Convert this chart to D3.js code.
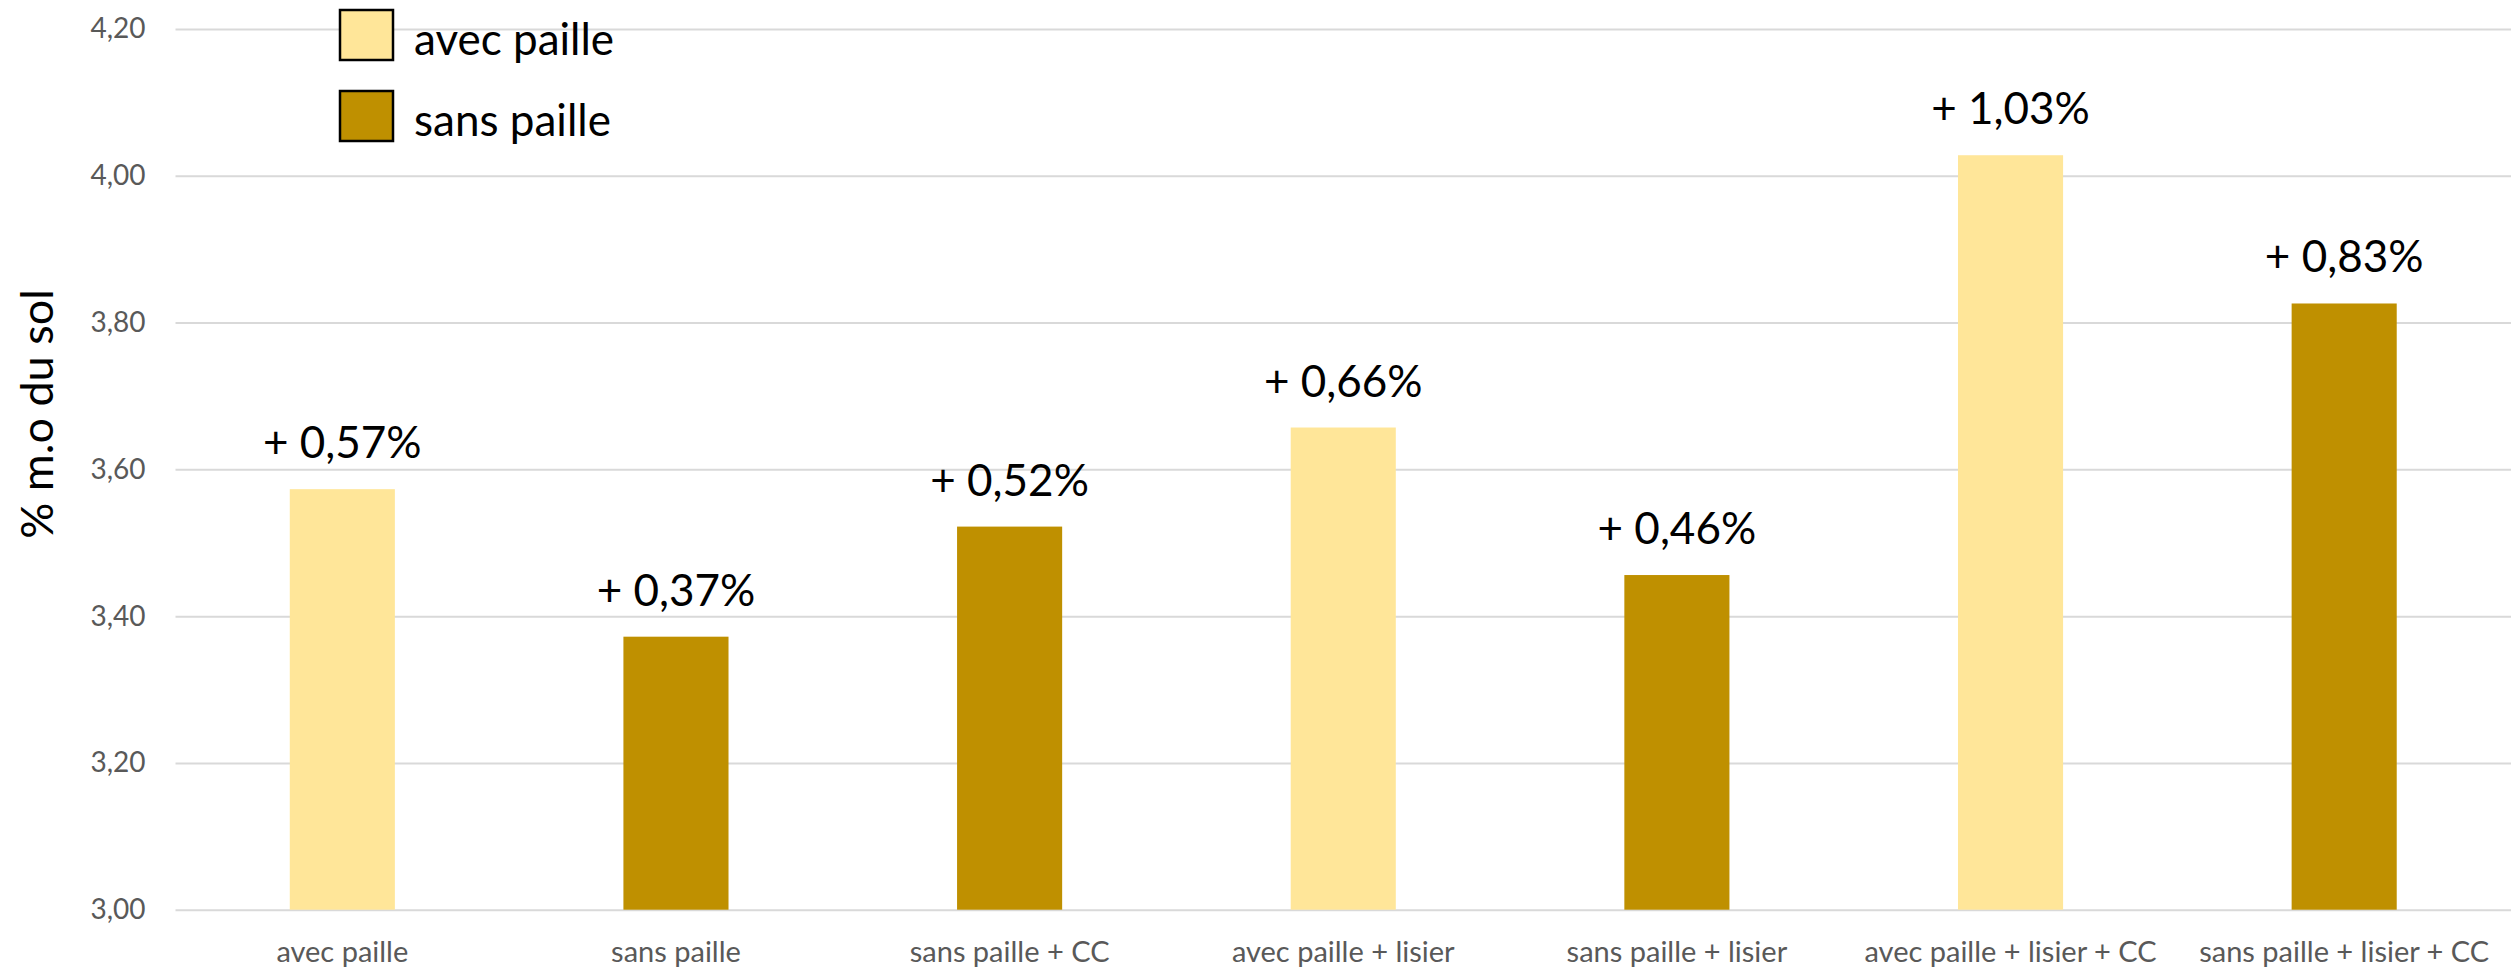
<!DOCTYPE html>
<html>
<head>
<meta charset="utf-8">
<script src="https://cdn.jsdelivr.net/npm/d3@7"></script>
<style>
  body { margin: 0; background: #fff; }
  svg { display: block; font-family: Lato, "Open Sans", sans-serif; }
</style>
</head>
<body>
<script>
// données
const categories = ["avec paille", "sans paille", "sans paille + CC", "avec paille + lisier",
  "sans paille + lisier", "avec paille + lisier + CC", "sans paille + lisier + CC"];
const values = [3.573, 3.372, 3.522, 3.657, 3.456, 4.028, 3.826];
const groups = ["avec paille", "sans paille", "sans paille", "avec paille",
  "sans paille", "avec paille", "sans paille"];
const gains = ["+ 0,57%", "+ 0,37%", "+ 0,52%", "+ 0,66%", "+ 0,46%", "+ 1,03%", "+ 0,83%"];
const yTicks = [3.0, 3.2, 3.4, 3.6, 3.8, 4.0, 4.2];
const legendItems = ["avec paille", "sans paille"];

const colors = { "avec paille": "#FFE699", "sans paille": "#BF9000" };

const width = 2511, height = 969;
const margin = { top: 29, right: 0, bottom: 59, left: 175.5 };

const svg = d3.select("body").append("svg")
  .attr("width", width)
  .attr("height", height);

const x = d3.scaleBand()
  .domain(categories)
  .range([margin.left, width - margin.right])
  .padding(0);

const y = d3.scaleLinear()
  .domain([3, 4.2])
  .range([height - margin.bottom - 0.3, margin.top]);

const fmt = d => d3.format(".2f")(d).replace(".", ",");

// grille + axe y
svg.append("g")
  .attr("transform", `translate(${margin.left},0)`)
  .call(d3.axisLeft(y).tickValues(yTicks).tickFormat(fmt)
    .tickSize(-(width - margin.left - margin.right)).tickPadding(30))
  .call(g => g.select(".domain").remove())
  .call(g => g.selectAll(".tick line").attr("stroke", "#D9D9D9").attr("stroke-width", 2))
  .call(g => g.selectAll("text")
    .attr("fill", "#595959")
    .style("font-size", "28px")
    .style("font-family", "Lato"));

// axe x
svg.append("g")
  .attr("transform", `translate(0,${y(3)})`)
  .call(d3.axisBottom(x).tickSize(0))
  .call(g => g.select(".domain").remove())
  .call(g => g.selectAll("text")
    .attr("y", 52)
    .attr("dy", 0)
    .attr("fill", "#595959")
    .style("font-size", "29px")
    .style("font-family", "Lato"));

// barres
const barW = x.bandwidth() * 0.315;
svg.append("g")
  .selectAll("rect")
  .data(values)
  .join("rect")
  .attr("x", (d, i) => x(categories[i]) + (x.bandwidth() - barW) / 2)
  .attr("width", barW)
  .attr("y", d => y(d))
  .attr("height", d => y(3) - y(d))
  .attr("fill", (d, i) => colors[groups[i]]);

// étiquettes
svg.append("g")
  .selectAll("text")
  .data(values)
  .join("text")
  .attr("x", (d, i) => x(categories[i]) + x.bandwidth() / 2)
  .attr("y", d => y(d) - 31)
  .attr("text-anchor", "middle")
  .style("font-size", "44px")
  .attr("fill", "#000")
  .text((d, i) => gains[i]);

// titre axe y
svg.append("text")
  .attr("transform", "translate(52.5,414) rotate(-90)")
  .attr("text-anchor", "middle")
  .style("font-size", "45px")
  .attr("fill", "#000")
  .text("% m.o du sol");

// légende
const legend = svg.append("g")
  .selectAll("g")
  .data(legendItems)
  .join("g")
  .attr("transform", (d, i) => `translate(340,${10 + i * 81})`);

legend.append("rect")
  .attr("width", 53)
  .attr("height", 50)
  .attr("fill", d => colors[d])
  .attr("stroke", "#000")
  .attr("stroke-width", 2.5);

legend.append("text")
  .attr("x", 74)
  .attr("y", 45)
  .style("font-size", "44px")
  .attr("fill", "#000")
  .text(d => d);
</script>
</body>
</html>
